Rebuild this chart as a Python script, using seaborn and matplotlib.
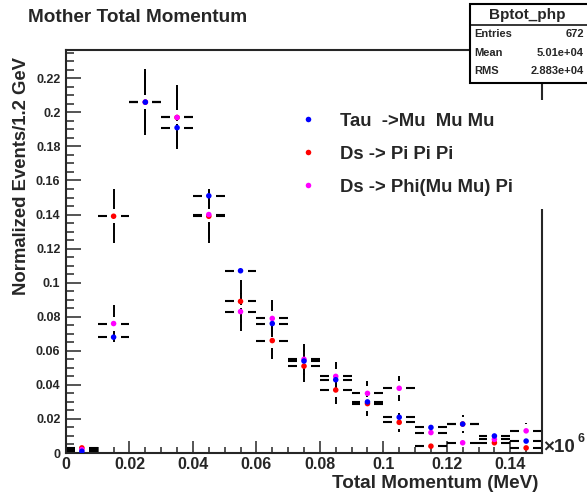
import numpy as np
import pandas as pd
import matplotlib
matplotlib.use("Agg")
import matplotlib.pyplot as plt
from matplotlib.lines import Line2D
from matplotlib.patches import Rectangle
from matplotlib.ticker import MultipleLocator, FuncFormatter
import seaborn as sns

# ---- histogram contents (bin centres in units of 10^6 MeV, width 0.01) ----
bin_centres = [0.005, 0.015, 0.025, 0.035, 0.045, 0.055, 0.065, 0.075,
               0.085, 0.095, 0.105, 0.115, 0.125, 0.135, 0.145]
bin_width = 0.01

tau_mumumu = [0.001, 0.068, 0.206, 0.191, 0.151, 0.107, 0.076, 0.054,
              0.043, 0.030, 0.021, 0.015, 0.017, 0.010, 0.007]
tau_mumumu_err = [0.0003, 0.0026, 0.0045, 0.0044, 0.0039, 0.0033, 0.0028, 0.0023,
                  0.0021, 0.0017, 0.0014, 0.0012, 0.0013, 0.0010, 0.0008]

ds_pipipi = [0.003, 0.139, 0.206, 0.197, 0.139, 0.089, 0.066, 0.051,
             0.037, 0.029, 0.018, 0.004, 0.017, 0.006, 0.003]
ds_pipipi_err = [0.0023, 0.0158, 0.0192, 0.0188, 0.0158, 0.0126, 0.0109, 0.0095,
                 0.0081, 0.0072, 0.0057, 0.0027, 0.0055, 0.0033, 0.0023]

ds_phipi = [0.002, 0.076, 0.206, 0.197, 0.140, 0.083, 0.079, 0.055,
            0.045, 0.035, 0.038, 0.012, 0.006, 0.008, 0.013]
ds_phipi_err = [0.0017, 0.0106, 0.0175, 0.0171, 0.0144, 0.0111, 0.0108, 0.0091,
                0.0082, 0.0072, 0.0075, 0.0042, 0.0030, 0.0035, 0.0044]

labels = ["Tau  ->Mu  Mu Mu", "Ds -> Pi Pi Pi", "Ds -> Phi(Mu Mu) Pi"]
colors = {labels[0]: "#0000ff", labels[1]: "#ff0000", labels[2]: "#ff00ff"}

stats_name = "Bptot_php"
stats_rows = [("Entries", "672"), ("Mean", "5.01e+04"), ("RMS", "2.883e+04")]

x_ticks = [0, 0.02, 0.04, 0.06, 0.08, 0.1, 0.12, 0.14]
y_ticks = [0, 0.02, 0.04, 0.06, 0.08, 0.1, 0.12, 0.14, 0.16, 0.18, 0.2, 0.22]

# drawing order: later rows sit on top
frames = []
for name, vals, errs in [(labels[1], ds_pipipi, ds_pipipi_err),
                         (labels[2], ds_phipi, ds_phipi_err),
                         (labels[0], tau_mumumu, tau_mumumu_err)]:
    frames.append(pd.DataFrame({"p": bin_centres, "val": vals, "err": errs,
                                "channel": name}))
df = pd.concat(frames, ignore_index=True)

sns.set_style("ticks")
plt.rcParams["font.family"] = ["Liberation Sans", "DejaVu Sans"]
plt.rcParams["font.weight"] = "bold"

W, H = 587, 497
fig = plt.figure(figsize=(W / 100, H / 100), dpi=100)
fig.patch.set_facecolor("white")

def fx(x):
    return x / W

def fy(y):
    return 1 - y / H

left, right, top, bottom = 66, 542, 50, 453
ax = fig.add_axes([fx(left), fy(bottom), (right - left) / W, (bottom - top) / H])
xmax, ymax = 0.15, 0.2366
ax.set_xlim(0, xmax)
ax.set_ylim(0, ymax)

# error bars, ROOT style: segments stop short of the marker
gap_px = 7.0
gx = gap_px * xmax / (right - left)
gy = gap_px * ymax / (bottom - top)
hsegs, vsegs = [], []
for _, r in df.iterrows():
    x0, x1 = r.p - bin_width / 2, r.p + bin_width / 2
    hsegs.append(([x0, r.p - gx], [r.val, r.val]))
    hsegs.append(([r.p + gx, x1], [r.val, r.val]))
    if r.err > gy:
        vsegs.append(([r.p, r.p], [r.val + gy, r.val + r.err]))
        vsegs.append(([r.p, r.p], [max(r.val - r.err, 0), r.val - gy]))
for xs, ys in hsegs:
    ax.plot(xs, ys, color="black", lw=1.5, solid_capstyle="butt", zorder=2)
for xs, ys in vsegs:
    ax.plot(xs, ys, color="black", lw=1.4, solid_capstyle="butt", zorder=2)

sns.scatterplot(data=df, x="p", y="val", hue="channel", palette=colors,
                s=16, linewidth=0, legend=False, ax=ax, zorder=3)
ax.set_xlabel("")
ax.set_ylabel("")

for sp in ax.spines.values():
    sp.set_linewidth(1.5)
    sp.set_visible(True)

ax.xaxis.set_minor_locator(MultipleLocator(0.005))
ax.yaxis.set_minor_locator(MultipleLocator(0.005))
ax.set_xticks(x_ticks)
ax.set_yticks(y_ticks)
fmt = FuncFormatter(lambda v, pos: f"{v:g}")
ax.xaxis.set_major_formatter(fmt)
ax.yaxis.set_major_formatter(fmt)
ax.tick_params(which="both", direction="in", top=False, right=False, width=1.1)
ax.tick_params(axis="y", which="major", length=10.8, labelsize=9, pad=4)
ax.tick_params(axis="y", which="minor", length=5.4)
ax.tick_params(axis="x", which="major", length=8.6, labelsize=11.5, pad=3)
ax.tick_params(axis="x", which="minor", length=4.3)
for lab in ax.get_xticklabels() + ax.get_yticklabels():
    lab.set_fontweight("bold")

# titles
fig.text(fx(28), fy(18), "Mother Total Momentum", fontsize=13.7,
         fontweight="bold", ha="left", va="center")
fig.text(fx(22), fy(57), "Normalized Events/1.2 GeV", fontsize=13.3,
         fontweight="bold", rotation=90, rotation_mode="anchor",
         ha="right", va="center")
fig.text(fx(538), fy(483), "Total Momentum (MeV)", fontsize=13.6,
         fontweight="bold", ha="right", va="center")
fig.text(fx(543), fy(448), "\u00d710", fontsize=13.5, fontweight="bold",
         ha="left", va="center")
fig.text(fx(578), fy(439), "6", fontsize=9, fontweight="bold",
         ha="left", va="center")

# legend
handles = [Line2D([], [], ls="none", marker="o", markersize=4,
                  markerfacecolor=colors[l], markeredgewidth=0) for l in labels]
leg = ax.legend(handles, labels, loc="upper left", mode="expand",
                bbox_to_anchor=(fx(286), fy(100), fx(560) - fx(286), 0.001),
                bbox_transform=fig.transFigure, fontsize=13.3, frameon=True,
                borderpad=0.72, handlelength=0.9, handletextpad=1.3,
                labelspacing=0.87, borderaxespad=0)
leg.get_frame().set_facecolor("white")
leg.get_frame().set_edgecolor("none")
leg.get_frame().set_alpha(1)
leg.get_frame().set_boxstyle("square", pad=0)
for t in leg.get_texts():
    t.set_fontweight("bold")

# statistics box
box = Rectangle((fx(470), fy(83)), (600 - 470) / W, (83 - 4) / H,
                transform=fig.transFigure, facecolor="white", edgecolor="black",
                linewidth=1.5, zorder=5)
fig.add_artist(box)
fig.add_artist(Line2D([fx(470), fx(600)], [fy(25), fy(25)], color="black",
                      lw=1.1, transform=fig.transFigure, zorder=6))
fig.text(fx(527), fy(14.5), stats_name, fontsize=11, fontweight="bold",
         ha="center", va="center", zorder=7)
for i, (k, v) in enumerate(stats_rows):
    yy = 34 + i * 18.5
    fig.text(fx(474), fy(yy), k, fontsize=8, fontweight="bold",
             ha="left", va="center", zorder=7)
    fig.text(fx(584), fy(yy), v, fontsize=8, fontweight="bold",
             ha="right", va="center", zorder=7)

fig.savefig("out.png", dpi=100)
